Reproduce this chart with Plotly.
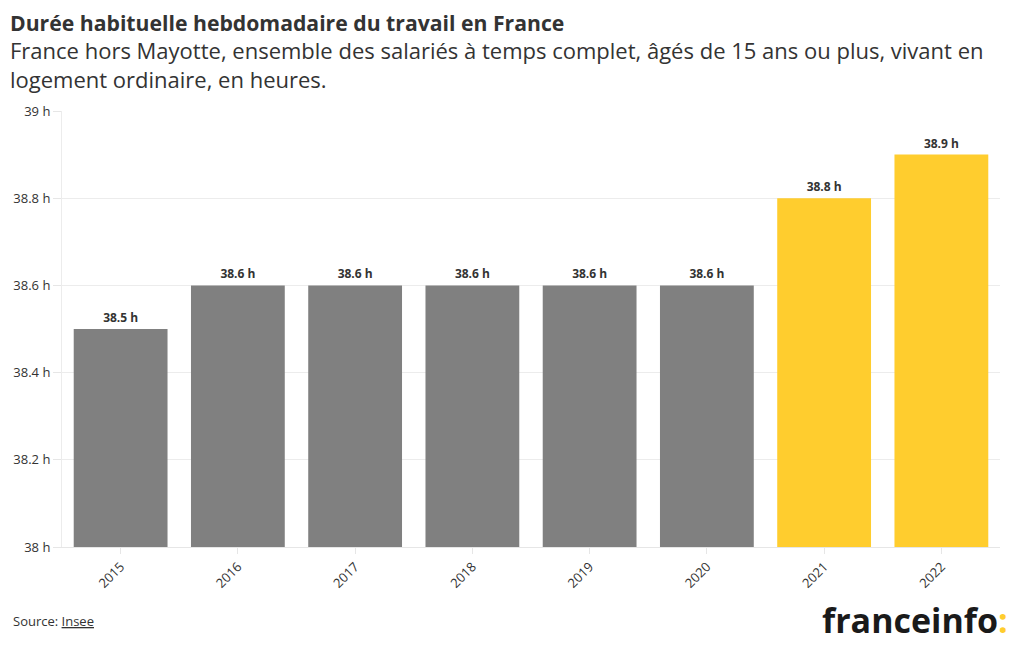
import plotly.graph_objects as go

years = ["2015", "2016", "2017", "2018", "2019", "2020", "2021", "2022"]
hours = [38.5, 38.6, 38.6, 38.6, 38.6, 38.6, 38.8, 38.9]
bar_colors = ["#808080"] * 6 + ["#ffcd2e"] * 2
labels = [f"<b>{v:.1f} h</b>" for v in hours]

FONT = "'Open Sans', 'Noto Sans', sans-serif"

fig = go.Figure(
    go.Bar(
        x=years,
        y=hours,
        marker=dict(color=bar_colors, line=dict(width=0)),
        text=labels,
        textposition="outside",
        textfont=dict(size=12, color="#333333", family=FONT),
        cliponaxis=False,
        hoverinfo="skip",
    )
)

# page body has an 8px margin, so the figure is shrunk to keep the plot where it belongs
fig.update_layout(
    width=1012,
    height=642,
    margin=dict(l=54, r=20, t=103, b=103),
    plot_bgcolor="white",
    paper_bgcolor="white",
    bargap=0.2,
    showlegend=False,
    font=dict(family=FONT, color="#333333"),
)

fig.update_yaxes(
    range=[38, 39],
    dtick=0.2,
    ticksuffix=" h",
    showgrid=True,
    gridcolor="#ececec",
    gridwidth=1,
    zeroline=False,
    ticks="outside",
    ticklen=8,
    tickcolor="#e6e6e6",
    tickfont=dict(size=13, color="#333333"),
    showline=True,
    linecolor="#ececec",
    automargin=False,
)
fig.update_xaxes(
    tickangle=-45,
    ticks="outside",
    ticklen=6,
    tickcolor="#e6e6e6",
    tickfont=dict(size=13, color="#333333"),
    showline=True,
    linecolor="#e6e6e6",
    automargin=False,
)

fig.add_annotation(
    text="<b>Durée habituelle hebdomadaire du travail en France</b>",
    x=0, y=1, xref="paper", yref="paper", xanchor="left", yanchor="middle",
    xshift=-53, yshift=89, showarrow=False, align="left", borderpad=0,
    font=dict(size=21.2, color="#333333", family=FONT),
)
fig.add_annotation(
    text="France hors Mayotte, ensemble des salariés à temps complet, âgés de 15 ans ou plus, vivant en<br>logement ordinaire, en heures.",
    x=0, y=1, xref="paper", yref="paper", xanchor="left", yanchor="middle",
    xshift=-53, yshift=46.5, showarrow=False, align="left", borderpad=0,
    font=dict(size=22, color="#333333", family=FONT),
)
fig.add_annotation(
    text="Source: <u>Insee</u>",
    x=0, y=0, xref="paper", yref="paper", xanchor="left", yanchor="middle",
    xshift=-51, yshift=-74, showarrow=False, align="left",
    font=dict(size=13, color="#333333", family=FONT),
)
fig.add_annotation(
    text="<b>franceinfo</b><b><span style='color:#ffcd2e'>:</span></b>",
    x=1, y=0, xref="paper", yref="paper", xanchor="right", yanchor="middle",
    xshift=10, yshift=-73, showarrow=False,
    font=dict(size=34, color="#1a1a1a", family=FONT),
)

fig.write_html("out.html")
